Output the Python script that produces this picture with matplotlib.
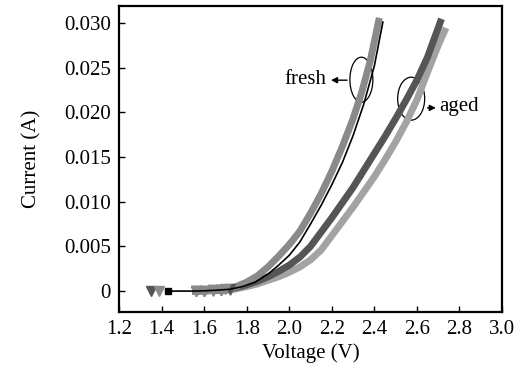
import matplotlib.pyplot as plt
from matplotlib.patches import Ellipse

plt.rcParams['font.family'] = ['Liberation Serif', 'DejaVu Serif']

# I-V curves (voltage in V, current in A)
fresh_a_v = [1.39, 1.56, 1.60, 1.64, 1.68, 1.70, 1.75, 1.80, 1.85, 1.90, 1.95, 2.00, 2.05, 2.10,
             2.15, 2.20, 2.25, 2.30, 2.34, 2.38, 2.42]
fresh_a_i = [0, 0, 0.00003, 0.00008, 0.00015, 0.0002, 0.0005, 0.0010, 0.0017, 0.0027, 0.0039,
             0.0052, 0.0067, 0.0087, 0.0109, 0.0134, 0.0162, 0.0193, 0.0222, 0.0257, 0.0302]

fresh_b_v = [1.43, 1.56, 1.60, 1.66, 1.72, 1.78, 1.84, 1.90, 1.95, 2.00, 2.05, 2.10, 2.15, 2.20,
             2.25, 2.30, 2.35, 2.40, 2.44]
fresh_b_i = [0, 0, 0.00003, 0.0001, 0.0002, 0.0005, 0.0010, 0.0019, 0.0029, 0.0040, 0.0055,
             0.0075, 0.0096, 0.0119, 0.0144, 0.0174, 0.0209, 0.0252, 0.0301]

aged_a_v = [1.35, 1.56, 1.60, 1.64, 1.68, 1.72, 1.80, 1.85, 1.90, 1.95, 2.00, 2.05, 2.10, 2.15,
            2.20, 2.25, 2.30, 2.35, 2.40, 2.45, 2.50, 2.55, 2.60, 2.65, 2.71]
aged_a_i = [0, 0, 0.00003, 0.00007, 0.00012, 0.0002, 0.0007, 0.0011, 0.0016, 0.0022, 0.0029,
            0.0038, 0.0050, 0.0066, 0.0082, 0.0099, 0.0116, 0.0135, 0.0154, 0.0173, 0.0193,
            0.0214, 0.0236, 0.0262, 0.0301]

aged_b_v = [1.56, 1.60, 1.64, 1.68, 1.72, 1.80, 1.85, 1.90, 1.95, 2.00, 2.05, 2.10, 2.15, 2.20,
            2.25, 2.30, 2.35, 2.40, 2.45, 2.50, 2.55, 2.60, 2.65, 2.70, 2.73]
aged_b_i = [0, 0.00002, 0.00004, 0.00007, 0.0001, 0.0005, 0.0008, 0.0012, 0.0016, 0.0021,
            0.0027, 0.0035, 0.0046, 0.0062, 0.0078, 0.0094, 0.0111, 0.0128, 0.0147, 0.0167,
            0.0189, 0.0214, 0.0245, 0.0275, 0.0291]

x_ticks = [1.2, 1.4, 1.6, 1.8, 2.0, 2.2, 2.4, 2.6, 2.8, 3.0]
y_ticks = [0, 0.005, 0.010, 0.015, 0.020, 0.025, 0.030]
y_labels = ['0', '0.005', '0.010', '0.015', '0.020', '0.025', '0.030']

fig = plt.figure(figsize=(5.29, 3.76), dpi=100)
ax = fig.add_axes([0.225, 0.170, 0.724, 0.814])


def draw(v, i, color, lw):
    # thick curve from the sweep start onwards, lone markers before it
    start = next(k for k, x in enumerate(v) if x >= 1.56)
    ax.plot(v[start:], i[start:], color=color, lw=lw, solid_joinstyle='round')
    low = [k for k, x in enumerate(v) if x < 1.75]
    ax.plot([v[k] for k in low], [i[k] for k in low], ls='none', marker='v', ms=6.5,
            color=color, zorder=3)


draw(aged_b_v, aged_b_i, '#a3a3a3', 5)
draw(aged_a_v, aged_a_i, '#555555', 5)
draw(fresh_a_v, fresh_a_i, '#8a8a8a', 5)
ax.plot(fresh_b_v, fresh_b_i, color='black', lw=1.2, marker='s', ms=5, markevery=[0],
        solid_joinstyle='round', zorder=3)

# annotations
ax.add_patch(Ellipse((2.339, 0.02366), 0.108, 0.00503, fill=False, lw=0.9, color='black'))
ax.add_patch(Ellipse((2.573, 0.02153), 0.127, 0.00481, fill=False, lw=0.9, color='black'))
ax.annotate('', xy=(2.183, 0.0236), xytext=(2.285, 0.0236),
            arrowprops=dict(arrowstyle='-|>', lw=1, color='black', mutation_scale=9))
ax.text(2.175, 0.0237, 'fresh', ha='right', va='center', fontsize=15)
ax.annotate('', xy=(2.702, 0.0205), xytext=(2.637, 0.0205),
            arrowprops=dict(arrowstyle='-|>', lw=1, color='black', mutation_scale=9))
ax.text(2.704, 0.0206, 'aged', ha='left', va='center', fontsize=15)

ax.set_xlim(1.2, 3.0)
ax.set_ylim(-0.00235, 0.0319)
ax.set_xticks(x_ticks)
ax.set_xticklabels([f'{t:.1f}' for t in x_ticks])
ax.set_yticks(y_ticks)
ax.set_yticklabels(y_labels)
ax.tick_params(direction='in', length=4.5, width=1, labelsize=15, pad=6)
for s in ax.spines.values():
    s.set_linewidth(1.6)
ax.set_xlabel('Voltage (V)', fontsize=15, labelpad=3)
ax.set_ylabel('Current (A)', fontsize=15, labelpad=16)

fig.savefig('out.png', dpi=100)
